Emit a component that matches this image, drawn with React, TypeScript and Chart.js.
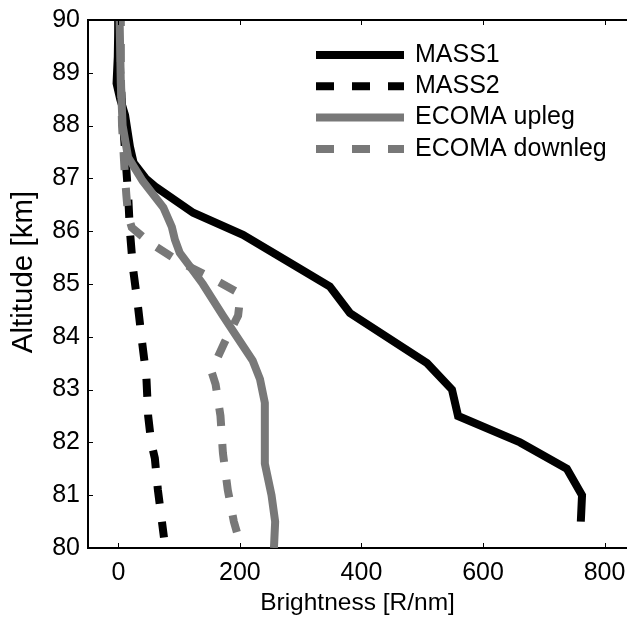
import React, { useEffect, useRef } from "react";
import { Chart, registerables } from "chart.js";

Chart.register(...registerables);

// ---- data (altitude in km, brightness in R/nm) ----
const mass1Alt = [90.0, 89.3, 88.8, 88.5, 88.2, 87.6, 87.3, 87.0, 86.85, 86.35, 85.93, 85.46, 84.95, 84.45, 83.5, 83.0, 82.5, 82.0, 81.5, 81.0, 80.5];
const mass1Val = [0, -1, -3, 3, 11, 19, 25, 45, 60, 123, 205, 274, 348, 381, 508, 549, 559, 661, 738, 763, 761];

const mass2Alt = [90.0, 89.0, 88.2, 87.5, 86.7, 86.0, 85.3, 84.6, 83.9, 83.25, 82.5, 82.0, 81.7, 81.1, 80.2];
const mass2Val = [0, 3, 7, 11, 16, 19, 24, 32, 39, 46, 49, 54, 60, 65, 75];

const uplegAlt = [90.0, 88.8, 88.0, 87.4, 86.95, 86.45, 86.08, 85.84, 85.59, 85.33, 85.0, 84.4, 84.0, 83.55, 83.2, 82.75, 81.6, 81.0, 80.5, 80.0];
const uplegVal = [2, 4, 7, 16, 40, 74, 88, 93, 101, 118, 139, 172, 195, 221, 233, 241, 241, 252, 258, 256];

const downlegAlt = [90.0, 89.0, 88.0, 87.2, 86.7, 86.3, 86.07, 85.78, 85.42, 85.08, 84.85, 84.7, 84.4, 83.9, 83.35, 83.1, 82.5, 81.8, 81.1, 80.5, 80.3];
const downlegVal = [4, 4, 6, 10, 13, 16, 22, 52, 101, 159, 195, 200, 197, 175, 153, 160, 168, 172, 180, 190, 195];

const seriesNames = ["MASS1", "MASS2", "ECOMA upleg", "ECOMA downleg"];
const xTicks = [0, 200, 400, 600, 800];
const yTicks = [80, 81, 82, 83, 84, 85, 86, 87, 88, 89, 90];
const xMin = -50;
const xMax = 837;
const yMin = 80;
const yMax = 90;
const xTitle = "Brightness [R/nm]";
const yTitle = "Altitude [km]";

const BLACK = "#000000";
const GRAY = "#787878";
const FONT = "'Liberation Sans', Arial, Helvetica, sans-serif";
const DASH = [18, 18];

const toPoints = (alt: number[], val: number[]) => alt.map((a, i) => ({ x: val[i], y: a }));

const framePlugin = {
  id: "frameAndLegend",
  afterDraw(chart: any) {
    const { ctx, chartArea: a, scales } = chart;
    const xs = scales.x;
    const ys = scales.y;
    ctx.save();
    // top border
    ctx.strokeStyle = BLACK;
    ctx.lineWidth = 2;
    ctx.setLineDash([]);
    ctx.beginPath();
    ctx.moveTo(a.left - 1, a.top);
    ctx.lineTo(a.right, a.top);
    ctx.stroke();
    // inward ticks
    ctx.lineWidth = 1;
    ctx.beginPath();
    xTicks.forEach((v) => {
      const px = Math.round(xs.getPixelForValue(v)) + 0.5;
      ctx.moveTo(px, a.bottom);
      ctx.lineTo(px, a.bottom - 5);
      ctx.moveTo(px, a.top);
      ctx.lineTo(px, a.top + 5);
    });
    yTicks.forEach((v) => {
      const py = Math.round(ys.getPixelForValue(v)) + 0.5;
      ctx.moveTo(a.left, py);
      ctx.lineTo(a.left + 5, py);
    });
    ctx.stroke();

    // y title
    ctx.fillStyle = BLACK;
    ctx.font = `29.5px ${FONT}`;
    ctx.textAlign = "center";
    ctx.textBaseline = "middle";
    ctx.translate(24, 272);
    ctx.rotate(-Math.PI / 2);
    ctx.fillText(yTitle, 0, 0);
    ctx.setTransform(1, 0, 0, 1, 0, 0);

    // legend
    const lx0 = 316;
    const lx1 = 404;
    const tx = 415;
    const ly0 = 55;
    const ldy = 31.3;
    ctx.font = `25px ${FONT}`;
    ctx.textAlign = "left";
    ctx.textBaseline = "middle";
    chart.data.datasets.forEach((ds: any, i: number) => {
      const y = ly0 + i * ldy;
      ctx.strokeStyle = ds.borderColor;
      ctx.lineWidth = ds.borderWidth;
      ctx.lineCap = "butt";
      ctx.setLineDash(ds.borderDash || []);
      ctx.lineDashOffset = 0;
      ctx.beginPath();
      ctx.moveTo(lx0, y);
      ctx.lineTo(lx1, y);
      ctx.stroke();
      ctx.setLineDash([]);
      ctx.fillStyle = BLACK;
      ctx.fillText(ds.label, tx, y);
    });
    ctx.restore();
  },
};

export default function App() {
  const ref = useRef<HTMLCanvasElement | null>(null);

  useEffect(() => {
    if (!ref.current) return;
    const mk = (i: number, alt: number[], val: number[], color: string, dashed: boolean, order: number, dashOffset = 0) => ({
      label: seriesNames[i],
      data: toPoints(alt, val),
      showLine: true,
      borderColor: color,
      backgroundColor: color,
      borderWidth: 8,
      borderDash: dashed ? DASH : [],
      borderDashOffset: dashOffset,
      pointRadius: 0,
      pointHoverRadius: 0,
      tension: 0,
      fill: false,
      order,
    });
    const chart = new Chart(ref.current, {
      type: "scatter",
      data: {
        datasets: [
          mk(0, mass1Alt, mass1Val, BLACK, false, 4),
          mk(1, mass2Alt, mass2Val, BLACK, true, 3),
          mk(2, uplegAlt, uplegVal, GRAY, false, 2),
          mk(3, downlegAlt, downlegVal, GRAY, true, 1, 12),
        ],
      },
      options: {
        responsive: false,
        animation: false,
        devicePixelRatio: 1,
        layout: { padding: { top: 20, left: 0, right: 0, bottom: 0 } },
        plugins: {
          legend: { display: false },
          tooltip: { enabled: false },
        },
        scales: {
          x: {
            type: "linear",
            position: "bottom",
            min: xMin,
            max: xMax,
            afterBuildTicks: (s: any) => {
              s.ticks = xTicks.map((v) => ({ value: v }));
            },
            afterFit: (s: any) => {
              s.height = 69;
              s.paddingLeft = 0;
              s.paddingRight = 0;
            },
            grid: { display: false, drawTicks: false },
            border: { display: true, width: 2, color: BLACK },
            ticks: {
              padding: 10,
              color: BLACK,
              font: { family: FONT, size: 25 },
              maxRotation: 0,
              autoSkip: false,
            },
            title: {
              display: true,
              text: xTitle,
              color: BLACK,
              font: { family: FONT, size: 24.5, lineHeight: 1.15 },
              padding: { top: 0, bottom: 0 },
            },
          },
          y: {
            type: "linear",
            position: "left",
            min: yMin,
            max: yMax,
            afterBuildTicks: (s: any) => {
              s.ticks = yTicks.map((v) => ({ value: v }));
            },
            afterFit: (s: any) => {
              s.width = 88;
              s.paddingTop = 0;
              s.paddingBottom = 0;
            },
            grid: { display: false, drawTicks: false },
            border: { display: true, width: 2, color: BLACK },
            ticks: {
              padding: 8,
              color: BLACK,
              font: { family: FONT, size: 25 },
              autoSkip: false,
            },
          },
        },
      },
      plugins: [framePlugin],
    } as any);
    return () => chart.destroy();
  }, []);

  return (
    <div style={{ position: "fixed", left: 0, top: 0, width: 627, height: 617, overflow: "hidden", background: "#fff" }}>
      <canvas ref={ref} width={627} height={617} style={{ display: "block" }} />
    </div>
  );
}
